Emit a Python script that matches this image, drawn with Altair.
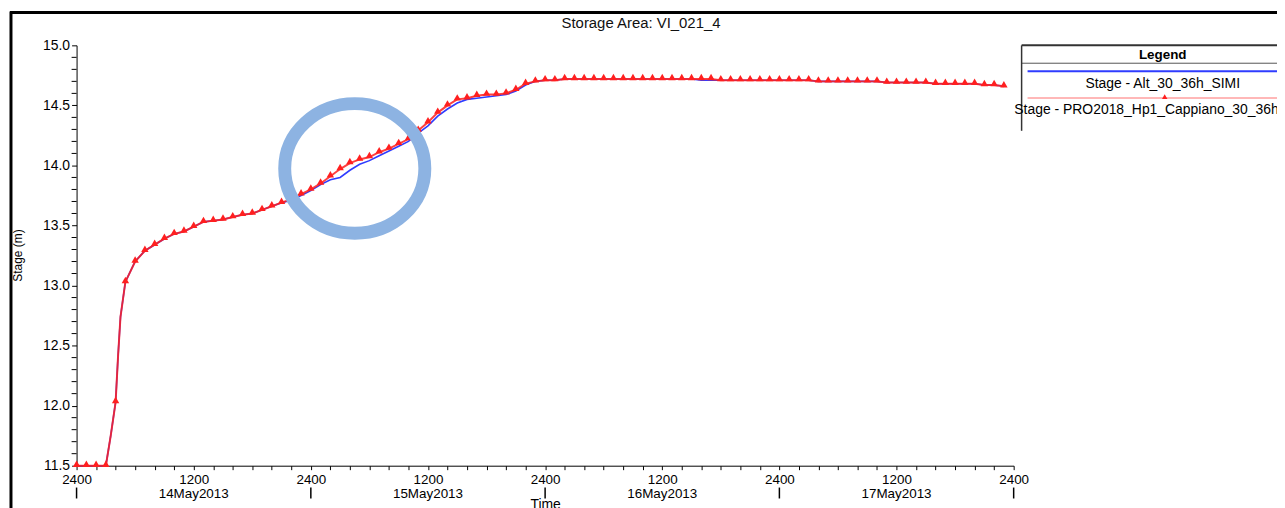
import altair as alt
import pandas as pd

# ---------------- data ----------------
BASE_MS = int(pd.Timestamp("2013-05-14T00:00:00", tz="UTC").value // 10**6)
HOUR_MS = 3600000

# hours after 13May2013 2400
HOURS = [0, 1, 2, 3, 3.5, 4, 4.25, 4.5] + list(range(5, 96))

RED_STAGE = [
    11.50, 11.50, 11.50, 11.50, 11.75, 12.03, 12.41, 12.74,
    13.03, 13.20, 13.29, 13.34, 13.39, 13.43, 13.45, 13.49, 13.53, 13.54,
    13.55, 13.57, 13.59, 13.60, 13.63, 13.66, 13.69, 13.72, 13.76, 13.80,
    13.85, 13.91, 13.97, 14.02, 14.05, 14.07, 14.11, 14.14, 14.18, 14.22,
    14.29, 14.36, 14.44, 14.50, 14.55, 14.56, 14.58, 14.59, 14.59, 14.60,
    14.63, 14.68, 14.70, 14.71,
    14.71, 14.72, 14.72, 14.72, 14.72, 14.72, 14.72, 14.72, 14.72, 14.72,
    14.72, 14.72, 14.72, 14.72, 14.72, 14.72, 14.72, 14.71, 14.71, 14.71,
    14.71, 14.71, 14.71, 14.71, 14.71, 14.71, 14.71, 14.70, 14.70, 14.70,
    14.70, 14.70, 14.70, 14.70, 14.69, 14.69, 14.69, 14.69, 14.69, 14.68,
    14.68, 14.68, 14.68, 14.68, 14.67, 14.67, 14.66,
]

BLUE_STAGE = [
    11.50, 11.50, 11.50, 11.50, 11.75, 12.03, 12.41, 12.74,
    13.03, 13.20, 13.29, 13.34, 13.39, 13.43, 13.45, 13.49, 13.53, 13.54,
    13.55, 13.57, 13.59, 13.60, 13.63, 13.66, 13.69, 13.71, 13.75, 13.79,
    13.84, 13.88, 13.90, 13.96, 14.01, 14.04, 14.08, 14.12, 14.16, 14.20,
    14.27, 14.33, 14.41, 14.47, 14.52, 14.55, 14.56, 14.57, 14.58, 14.59,
    14.62, 14.67, 14.70, 14.71,
    14.71, 14.72, 14.72, 14.72, 14.72, 14.72, 14.72, 14.72, 14.72, 14.72,
    14.72, 14.72, 14.72, 14.72, 14.72, 14.71, 14.71, 14.71, 14.71, 14.71,
    14.71, 14.71, 14.71, 14.71, 14.71, 14.71, 14.71, 14.70, 14.70, 14.70,
    14.70, 14.70, 14.70, 14.70, 14.69, 14.69, 14.69, 14.69, 14.69, 14.68,
    14.68, 14.68, 14.68, 14.68, 14.67, 14.67, 14.66,
]

SERIES = ["Stage - Alt_30_36h_SIMI", "Stage - PRO2018_Hp1_Cappiano_30_36h_SIMI"]
SERIES_COLORS = ["#2f3cff", "#ff1f1f"]

DAY_NOON_HOURS = [12, 36, 60, 84]
DAY_LABELS = ["14May2013", "15May2013", "16May2013", "17May2013"]
MIDNIGHT_HOURS = [0, 24, 48, 72, 96]
X_TICK_HOURS = list(range(0, 97, 2))
Y_MAJOR = [11.5, 12.0, 12.5, 13.0, 13.5, 14.0, 14.5, 15.0]
Y_MINOR = [11.6, 11.7, 11.8, 11.9, 12.1, 12.2, 12.3, 12.4, 12.6, 12.7, 12.8, 12.9,
           13.1, 13.2, 13.3, 13.4, 13.6, 13.7, 13.8, 13.9, 14.1, 14.2, 14.3, 14.4,
           14.6, 14.7, 14.8, 14.9]

# highlighted region (circle annotation) centre
ANNOT_HOUR = [28.5]
ANNOT_STAGE = [13.975]

TITLE = "Storage Area: VI_021_4"
FONT = "Liberation Sans"


def t(h):
    return BASE_MS + h * HOUR_MS


rows = []
for s, vals in zip(SERIES, [BLUE_STAGE, RED_STAGE]):
    for h, v in zip(HOURS, vals):
        rows.append({"time": t(h), "hour": h, "stage": v, "series": s})
df = pd.DataFrame(rows)

x_dom = [t(0), t(96)]
xscale = alt.Scale(type="utc", domain=x_dom, nice=False)
yscale = alt.Scale(domain=[11.5, 15.0], nice=False, zero=False)

x_axis = alt.Axis(
    values=[t(h) for h in X_TICK_HOURS],
    labelExpr="utchours(datum.value) == 0 ? '2400' : (utchours(datum.value) == 12 ? '1200' : '')",
    labelOverlap=False, labelFlush=False, grid=False,
    tickSize=4, labelPadding=3, labelFontSize=13.5, labelFont=FONT, labelColor="#000",
    domainColor="#000", tickColor="#000",
    title="Time", titleFont=FONT, titleFontSize=14, titleFontWeight="normal",
    titleY=32, titleBaseline="top", titleColor="#000",
)
y_axis = alt.Axis(
    values=Y_MAJOR, format=".1f",
    labelOverlap=False, labelFlush=False, grid=False,
    tickSize=5, labelPadding=2, labelFontSize=14, labelFont=FONT, labelColor="#000",
    domainColor="#000", tickColor="#000",
    title="Stage (m)", titleFont=FONT, titleFontSize=12, titleFontWeight="normal",
    titleX=-59, titleY=211, titleAngle=270, titleAlign="center", titleBaseline="middle",
    titleColor="#000",
)

# identical encodings (and axes) in every data layer, so the shared axes merge cleanly
X_ENC = alt.X("time:T", scale=xscale, axis=x_axis)
Y_ENC = alt.Y("stage:Q", scale=yscale, axis=y_axis)

color = alt.Color("series:N", scale=alt.Scale(domain=SERIES, range=SERIES_COLORS), legend=None)

blue = alt.Chart(df).transform_filter(alt.datum.series == SERIES[0]).mark_line(
    strokeWidth=1.6
).encode(x=X_ENC, y=Y_ENC, color=color)

red = alt.Chart(df).transform_filter(alt.datum.series == SERIES[1]).mark_line(
    strokeWidth=2, opacity=0.85
).encode(x=X_ENC, y=Y_ENC, color=color)

markers = alt.Chart(df).transform_filter(
    (alt.datum.series == SERIES[1]) & (alt.datum.hour % 1 == 0)
).mark_point(shape="triangle-up", filled=True, size=55, opacity=1, yOffset=-2).encode(
    x=X_ENC, y=Y_ENC, color=color
)

minor_df = pd.DataFrame({"stage": Y_MINOR})
y_minor = alt.Chart(minor_df).mark_rule(color="#000", strokeWidth=1).encode(
    x=alt.value(-5), x2=alt.value(0), y=Y_ENC,
)

annot_df = pd.DataFrame({"time": [t(h) for h in ANNOT_HOUR], "stage": ANNOT_STAGE})
ring = alt.Chart(annot_df).mark_point(
    shape="M-1,0A1,0.925,0,1,1,1,0A1,0.925,0,1,1,-1,0Z",
    size=19881, filled=False, stroke="#8db3e2", strokeWidth=13, opacity=1,
).encode(x=X_ENC, y=Y_ENC)

day_df = pd.DataFrame({"time": [t(h) for h in DAY_NOON_HOURS], "label": DAY_LABELS})
day_text = alt.Chart(day_df).mark_text(
    font=FONT, fontSize=13.5, color="#000", baseline="middle", align="center"
).encode(x=X_ENC, y=alt.value(452), text="label:N")

mid_df = pd.DataFrame({"time": [t(h) for h in MIDNIGHT_HOURS]})
mid_ticks = alt.Chart(mid_df).mark_rule(color="#000", strokeWidth=1.5).encode(
    x=X_ENC, y=alt.value(445), y2=alt.value(456),
)

one = pd.DataFrame({"k": [0]})

title = alt.Chart(one).mark_text(
    text=TITLE, font=FONT, fontSize=15, color="#111", align="center", baseline="middle"
).encode(x=alt.value(568), y=alt.value(-22))

frame_top = alt.Chart(one).mark_rule(color="#000", strokeWidth=3).encode(
    x=alt.value(-67), x2=alt.value(1220), y=alt.value(-33)
)
frame_left = alt.Chart(one).mark_rule(color="#000", strokeWidth=3).encode(
    x=alt.value(-66), y=alt.value(-34), y2=alt.value(470)
)

# legend box
leg_top = alt.Chart(one).mark_rule(color="#333", strokeWidth=2).encode(
    x=alt.value(951), x2=alt.value(1220), y=alt.value(0)
)
leg_sep = alt.Chart(one).mark_rule(color="#555", strokeWidth=1).encode(
    x=alt.value(951), x2=alt.value(1220), y=alt.value(18)
)
leg_left = alt.Chart(one).mark_rule(color="#333", strokeWidth=1.5).encode(
    x=alt.value(951), y=alt.value(0), y2=alt.value(86)
)
leg_head = alt.Chart(one).mark_text(
    text="Legend", font=FONT, fontSize=13.5, fontWeight="bold", color="#000",
    align="center", baseline="middle",
).encode(x=alt.value(1093), y=alt.value(9.5))
leg_blue = alt.Chart(one).mark_rule(color=SERIES_COLORS[0], strokeWidth=2).encode(
    x=alt.value(957), x2=alt.value(1220), y=alt.value(26)
)
leg_txt1 = alt.Chart(one).mark_text(
    text=SERIES[0], font=FONT, fontSize=14, color="#000", align="center", baseline="middle"
).encode(x=alt.value(1093), y=alt.value(39))
leg_red = alt.Chart(one).mark_rule(color="#ff7070", strokeWidth=1).encode(
    x=alt.value(957), x2=alt.value(1220), y=alt.value(53)
)
leg_mark = alt.Chart(one).mark_point(
    shape="triangle-up", filled=True, size=30, color=SERIES_COLORS[1], opacity=1
).encode(x=alt.value(1095), y=alt.value(51.5))
leg_txt2 = alt.Chart(one).mark_text(
    text=SERIES[1], font=FONT, fontSize=14, color="#000", align="center", baseline="middle"
).encode(x=alt.value(1095), y=alt.value(65))

chart = alt.layer(
    blue, red, markers, y_minor, ring, day_text, mid_ticks, title, frame_top, frame_left,
    leg_top, leg_sep, leg_left, leg_head, leg_blue, leg_txt1, leg_red, leg_mark, leg_txt2,
).properties(
    width=943,
    height=423,
    padding={"left": 69, "top": 36, "right": 265, "bottom": 41},
    autosize=alt.AutoSizeParams(type="none"),
    background="white",
).configure_view(stroke=None)

chart.save("out.html", embed_options={"renderer": "svg", "actions": False})
